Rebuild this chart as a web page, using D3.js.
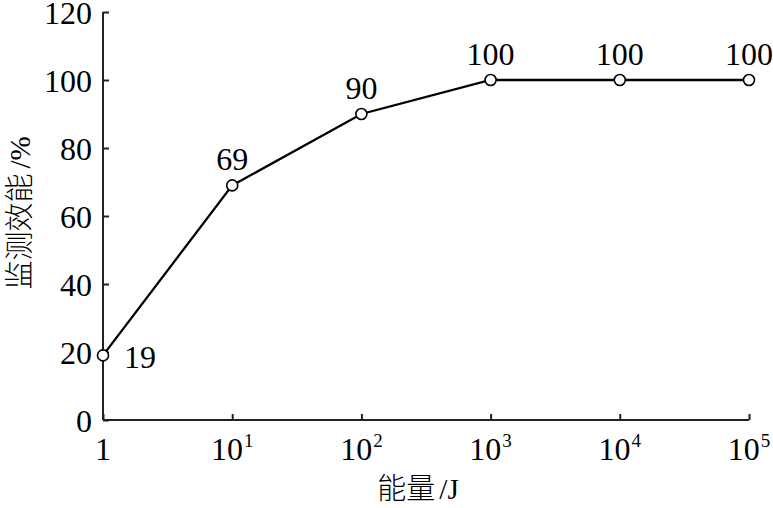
<!DOCTYPE html>
<html>
<head>
<meta charset="utf-8">
<script src="https://d3js.org/d3.v7.min.js"></script>
<style>
body {margin:0; background:white;}
text {font-family: "Liberation Serif", "Times New Roman", serif; fill:black;}
.cjk {font-family: "Noto Sans CJK SC", sans-serif; font-weight: 300;}
</style>
</head>
<body>
<svg width="773" height="508"></svg>
<script>
// data
var energy = [1, 10, 100, 1000, 10000, 100000];
var efficiency = [19, 69, 90, 100, 100, 100];
var pointLabels = ["19", "69", "90", "100", "100", "100"];
var xTickExp = [0, 1, 2, 3, 4, 5];
var yTicks = [0, 20, 40, 60, 80, 100, 120];

var svg = d3.select("svg");
var mLeft = 103, mRight = 749, mTop = 12, mBottom = 420;

var x = d3.scaleLog().domain([1, 100000]).range([mLeft, mRight]);
var y = d3.scaleLinear().domain([0, 120]).range([mBottom, mTop]);

// axes, ticks pointing inward
var yAxis = d3.axisRight(y).tickValues(yTicks).tickSize(6).tickFormat("");
var gy = svg.append("g").attr("transform", "translate(" + mLeft + ",0)").call(yAxis);
gy.select(".domain").attr("d", "M0," + y(120) + "V" + y(0));
gy.selectAll("line, path").attr("stroke", "#222").attr("stroke-width", 2);

var xAxis = d3.axisTop(x).tickValues(energy).tickSize(6).tickFormat("");
var gx = svg.append("g").attr("transform", "translate(0," + mBottom + ")").call(xAxis);
gx.select(".domain").attr("d", "M" + mLeft + ",0H" + mRight);
gx.selectAll("line, path").attr("stroke", "#222").attr("stroke-width", 2);

// y tick labels
svg.selectAll(".ylab").data(yTicks).enter().append("text")
  .attr("x", mLeft - 11)
  .attr("y", function(d) { return y(d) + 12; })
  .attr("text-anchor", "end")
  .style("font-size", "32px")
  .text(function(d) { return d; });

// x tick labels
xTickExp.forEach(function(e, i) {
  var t = svg.append("text")
    .attr("x", x(energy[i]))
    .attr("y", mBottom + 40)
    .attr("text-anchor", "middle")
    .style("font-size", "32px");
  if (e === 0) {
    t.text("1");
  } else {
    t.append("tspan").text("10");
    t.append("tspan").attr("dy", -13).attr("dx", 1).style("font-size", "19px").text(e);
  }
});

// line
var line = d3.line()
  .x(function(d, i) { return x(energy[i]); })
  .y(function(d) { return y(d); });
svg.append("path")
  .datum(efficiency)
  .attr("d", line)
  .attr("fill", "none")
  .attr("stroke", "black")
  .attr("stroke-width", 2.3);

svg.selectAll(".pt").data(efficiency).enter().append("circle")
  .attr("cx", function(d, i) { return x(energy[i]); })
  .attr("cy", function(d) { return y(d); })
  .attr("r", 5.5)
  .attr("fill", "white")
  .attr("stroke", "black")
  .attr("stroke-width", 1.6);

// point labels
svg.selectAll(".plab").data(efficiency).enter().append("text")
  .attr("x", function(d, i) { return i === 0 ? x(energy[i]) + 37 : x(energy[i]); })
  .attr("y", function(d, i) { return i === 0 ? y(d) + 13 : y(d) - 15; })
  .attr("text-anchor", "middle")
  .style("font-size", "32px")
  .text(function(d, i) { return pointLabels[i]; });

// axis titles
var xt = svg.append("text")
  .attr("x", 418)
  .attr("y", 499)
  .attr("text-anchor", "middle")
  .style("font-size", "29px");
xt.append("tspan").attr("class", "cjk").text("能量");
xt.append("tspan").attr("dx", 4).text("/J");

var yt = svg.append("text")
  .attr("transform", "translate(30,213) rotate(-90)")
  .attr("text-anchor", "middle")
  .style("font-size", "29px");
yt.append("tspan").attr("class", "cjk").text("监测效能");
yt.append("tspan").attr("dx", 5).text("/%");
</script>
</body>
</html>
